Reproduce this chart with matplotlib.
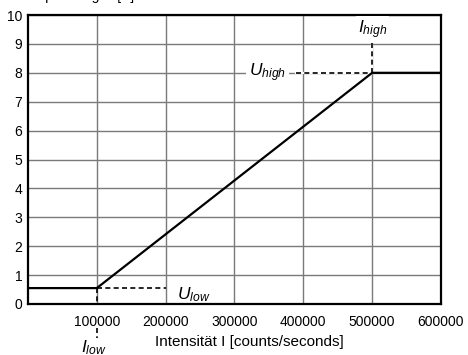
"""
Kennlinie Spannung / Intensität (U_low, U_high, I_low, I_high)
"""
import matplotlib
matplotlib.use('Agg')
import matplotlib.pyplot as plt

plt.rcParams['font.family'] = ['Liberation Sans', 'DejaVu Sans']
plt.rcParams['mathtext.fontset'] = 'custom'
plt.rcParams['mathtext.rm'] = 'Liberation Sans'
plt.rcParams['mathtext.it'] = 'Liberation Sans:italic'

# Daten
intensity = [0, 100000, 500000, 600000]
voltage = [0.55, 0.55, 8, 8]
i_low, i_high = 100000, 500000
u_low, u_high = 0.55, 8
x_ticks = [100000, 200000, 300000, 400000, 500000, 600000]
y_ticks = list(range(0, 11))

fig = plt.figure(figsize=(4.68, 3.55), dpi=100)
ax = fig.add_axes([0.0598, 0.1437, 0.8825, 0.814])
ax.set_xlim(0, 600000)
ax.set_ylim(0, 10)
ax.set_xticks(x_ticks)
ax.set_xticklabels([str(t) for t in x_ticks])
ax.set_yticks(y_ticks)
ax.tick_params(length=0, labelsize=10, colors='black')
ax.tick_params(axis='x', pad=8)
ax.tick_params(axis='y', pad=4)
ax.grid(True, color='#7a7a7a', linewidth=1.0)
ax.set_axisbelow(True)
for s in ax.spines.values():
    s.set_linewidth(1.6)
    s.set_color('black')

# Kennlinie
ax.plot(intensity, voltage, color='black', linewidth=1.6, zorder=4)

# Hilfslinien (gestrichelt), Gitter darunter ausblenden
dash = (0, (3, 2))
ax.plot([i_low, 200000], [u_low, u_low], color='black', lw=1.2, ls=dash, zorder=3)
ax.plot([i_low, i_low], [u_low, 0], color='black', lw=1.2, ls=dash, zorder=3)
ax.plot([i_low, i_low], [-0.83, -1.18], color='black', lw=1.2, ls=dash,
        zorder=3, clip_on=False)
ax.plot([390000, i_high], [u_high, u_high], color='white', lw=1.6, zorder=2.5)
ax.plot([390000, i_high], [u_high, u_high], color='black', lw=1.2, ls=dash, zorder=3)
ax.plot([i_high, i_high], [u_high, 9.1], color='white', lw=1.6, zorder=2.5)
ax.plot([i_high, i_high], [u_high, 9.1], color='black', lw=1.2, ls=dash, zorder=3)

# Beschriftungen
ax.text(216000, 0.32, '$U_{low}$', fontsize=12.5, ha='left', va='center', zorder=5)
ax.text(348000, u_high, '$U_{high}$', fontsize=12.5, ha='center', va='center', zorder=5,
        bbox=dict(boxstyle='square,pad=0.15', facecolor='white', edgecolor='none'))
ax.text(i_high, 9.5, '$I_{high}$', fontsize=12.5, ha='center', va='center', zorder=5,
        bbox=dict(boxstyle='square,pad=0.1', facecolor='white', edgecolor='none'))
ax.text(95000, -1.5, '$I_{low}$', fontsize=12.5, ha='center', va='center', clip_on=False)

fig.text(249 / 468, 1 - 342 / 355, 'Intensität I [counts/seconds]', fontsize=11,
         ha='center', va='center')
fig.text(85 / 468, 1.0, 'Spannung U [V]', fontsize=10, ha='center', va='baseline')

plt.savefig('out.png', dpi=100, facecolor='white')
